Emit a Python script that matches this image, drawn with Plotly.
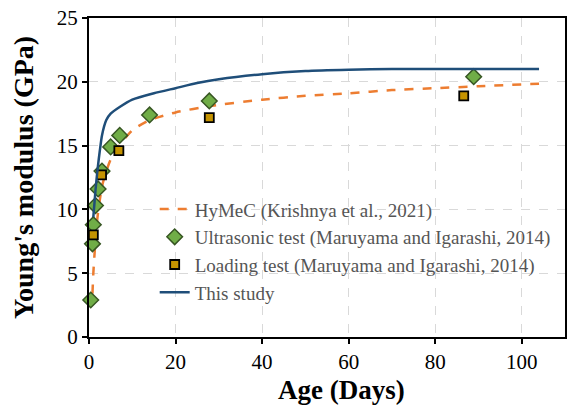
import plotly.graph_objects as go

# HyMeC (Krishnya et al., 2021) curve
hymec_day = [0.8, 1.0, 1.5, 2.0, 3.0, 4.0, 5.0, 7.0, 10.0, 14.0, 20.0, 28.0, 40.0, 50.0, 60.0, 70.0, 80.0, 90.0, 104.0]
hymec_E = [3.4, 5.0, 7.6, 9.5, 11.8, 13.0, 13.9, 15.0, 16.2, 17.0, 17.6, 18.1, 18.6, 18.9, 19.1, 19.35, 19.5, 19.65, 19.85]

# Ultrasonic test (Maruyama and Igarashi, 2014)
ultra_day = [0.4, 0.8, 1.0, 1.5, 2.1, 3.0, 5.0, 7.1, 14.0, 27.8, 88.9]
ultra_E = [2.9, 7.3, 8.8, 10.3, 11.6, 13.0, 14.9, 15.8, 17.4, 18.5, 20.4]

# Loading test (Maruyama and Igarashi, 2014)
load_day = [1.0, 2.9, 6.9, 27.8, 86.6]
load_E = [8.0, 12.7, 14.6, 17.2, 18.9]

# This study
study_day = [1.0, 1.5, 2.0, 2.5, 3.0, 4.0, 5.0, 7.0, 10.0, 15.0, 20.0, 25.0, 30.0, 40.0, 50.0, 60.0, 70.0, 80.0, 104.0]
study_E = [9.4, 11.5, 13.2, 14.6, 15.8, 17.0, 17.5, 18.0, 18.6, 19.1, 19.5, 19.9, 20.2, 20.6, 20.85, 20.95, 21.0, 21.0, 21.0]

x_ticks = [0, 20, 40, 60, 80, 100]
y_ticks = [0, 5, 10, 15, 20, 25]

FONT = "Liberation Serif"

fig = go.Figure()
fig.add_trace(go.Scatter(
    x=hymec_day, y=hymec_E, mode="lines", name="HyMeC (Krishnya et al., 2021)",
    line=dict(color="#ED7D31", width=2.5, dash="dash", shape="spline", smoothing=0.6)))
fig.add_trace(go.Scatter(
    x=ultra_day, y=ultra_E, mode="markers", name="Ultrasonic test (Maruyama and Igarashi, 2014)",
    cliponaxis=False,
    marker=dict(symbol="diamond", size=12, color="#70AD47", line=dict(color="#375623", width=1.5))))
fig.add_trace(go.Scatter(
    x=load_day, y=load_E, mode="markers", name="Loading test (Maruyama and Igarashi, 2014)",
    cliponaxis=False,
    marker=dict(symbol="square", size=9, color="#C59300", line=dict(color="#000000", width=1.8))))
fig.add_trace(go.Scatter(
    x=study_day, y=study_E, mode="lines", name="This study",
    line=dict(color="#1F4E79", width=2.5, shape="spline", smoothing=0.6)))

axis_common = dict(
    showline=True, linecolor="black", linewidth=2, mirror=True,
    ticks="outside", ticklen=5, tickwidth=1.5, tickcolor="black",
    showgrid=True, gridcolor="#D9D9D9", griddash="dash", gridwidth=1,
    zeroline=False, tickfont=dict(family=FONT, size=21, color="black"),
)

fig.update_layout(
    width=568, height=407,
    margin=dict(l=89, r=1, t=18, b=70),
    paper_bgcolor="white", plot_bgcolor="white",
    font=dict(family=FONT),
    xaxis=dict(range=[0, 110], tickvals=x_ticks, **axis_common),
    yaxis=dict(range=[0, 25], tickvals=y_ticks,
               title=dict(text="<b>Young's modulus (GPa)</b>", font=dict(family=FONT, size=28, color="black"), standoff=15),
               **axis_common),
    legend=dict(x=0.138, y=0.46, xanchor="left", yanchor="top",
                bgcolor="rgba(0,0,0,0)", font=dict(family=FONT, size=19, color="#555555"),
                tracegroupgap=0, itemwidth=30),
    showlegend=True,
    annotations=[dict(text="<b>Age (Days)</b>", xref="paper", yref="paper",
                      x=0.531, y=-0.165, xanchor="center", yanchor="middle", showarrow=False,
                      font=dict(family=FONT, size=27, color="black"))],
)

fig.write_html("out.html")
